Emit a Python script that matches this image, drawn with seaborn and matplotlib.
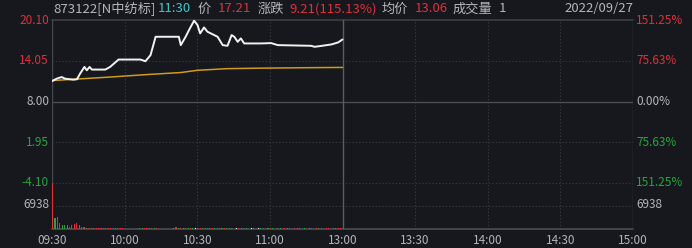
import matplotlib
matplotlib.use("Agg")
import matplotlib.pyplot as plt
import seaborn as sns
import pandas as pd

# ---------------- data ----------------
price_min = [0, 1.95, 4, 5.4, 8.8, 10.3, 11.6, 13.4, 14.4, 15.5, 16.5, 22, 24, 27.5, 36.5, 38.6,
             40.7, 42.8, 52.4, 53.2, 55.2, 56.6, 58.7, 60.1, 61.2, 62.8, 64.2, 67, 68.4, 70.5,
             72.5, 74.2, 75.3, 76.7, 78, 79.4, 86.4, 90.5, 93.3, 107, 108.5, 110.6, 115.4, 118.2, 120]
price_val = [11.03, 11.39, 11.63, 11.39, 11.24, 11.30, 12.14, 13.13, 12.63, 13.13, 12.74, 12.74,
             13.13, 14.23, 14.23, 13.98, 14.88, 17.61, 17.61, 16.37, 17.61, 18.61, 20.00, 19.36,
             18.11, 19.00, 18.36, 17.86, 17.61, 16.37, 16.27, 17.86, 17.61, 16.86, 17.37, 16.62,
             16.62, 16.67, 16.37, 16.27, 16.12, 16.22, 16.47, 16.77, 17.21]
avg_min = [0, 8.8, 22.7, 39.3, 53.2, 60.1, 72.5, 86.4, 108.5, 120]
avg_val = [11.10, 11.30, 11.60, 12.00, 12.30, 12.63, 12.88, 12.95, 13.03, 13.06]

vol_values = [13876, 3200, 3700, 1900, 1200, 1300, 1300, 700, 1100, 1400,
              1700, 1100, 700, 500, 300, 300, 400, 250, 300, 200,
              250, 300, 200, 300, 250, 300, 200, 300, 350, 200,
              100, 100, 120, 100, 100, 150, 300, 350, 250, 300,
              200, 300, 250, 200, 150, 100, 120, 100, 100, 150,
              450, 500, 350, 400, 300, 300, 250, 300, 250, 350,
              300, 250, 300, 200, 350, 250, 200, 250, 200, 300,
              250, 200, 250, 300, 200, 150, 250, 200, 300, 250,
              200, 150, 250, 200, 150, 200, 250, 200, 150, 200,
              250, 200, 150, 200, 250, 150, 200, 250, 200, 150,
              200, 250, 200, 150, 200, 150, 250, 200, 150, 200,
              250, 200, 150, 250, 200, 150, 200, 250, 200, 250, 300]
vol_dirs = [1, -1, 1, 1, -1, -1, -1, 1, 1, 1,
            1, 1, 1, 1, -1, 1, 1, 1, 1, 1,
            1, 1, 1, 1, 1, 1, 1, 1, 1, 1,
            1, 1, 1, 1, 1, 1, -1, -1, 1, 1,
            1, 1, -1, 1, 1, 1, 1, 1, 1, 1,
            -1, 1, -1, 1, -1, 1, -1, 1, -1, 0,
            -1, 1, -1, 1, 1, -1, 1, -1, 1, 1,
            -1, 1, -1, 1, 1, -1, 0, 1, -1, 1,
            -1, 1, 0, -1, 1, 0, -1, 1, 1, -1,
            1, -1, 0, 1, -1, 0, 1, -1, 1, -1,
            1, -1, 1, 0, -1, 1, -1, 1, -1, 1,
            -1, 1, -1, 1, 1, -1, 1, -1, 1, 1, 1]

y_ticks = [20.10, 14.05, 8.00, 1.95, -4.10]
y_tick_labels = ["20.10", "14.05", "8.00", "1.95", "-4.10"]
pct_labels = ["151.25%", "75.63%", "0.00%", "75.63%", "151.25%"]
vol_tick = 6938
vol_max = 13876
x_ticks = [0, 30, 60, 90, 120, 150, 180, 210, 240]
x_tick_labels = ["09:30", "10:00", "10:30", "11:00", "13:00", "13:30", "14:00", "14:30", "15:00"]

header = [("873122[N中纺标]", "gray"), ("11:30", "cyan"), ("价", "gray"), ("17.21", "red"),
          ("涨跌", "gray"), ("9.21(115.13%)", "red"), ("均价", "gray"), ("13.06", "red"),
          ("成交量", "gray"), ("1", "gray")]
header_x = [53, 158, 198, 218, 258, 289, 382, 415, 453, 499]
date_text = "2022/09/27"

# ---------------- style ----------------
BG = "#16181d"
RED = "#e0303a"
GREEN = "#25a73b"
GRAY = "#b4b6ba"
CYAN = "#3ec8c8"
GRID = "#3a3d45"
WHITE = "#f2f2f2"
AVG = "#d09a1c"
cmap = {"gray": GRAY, "red": RED, "cyan": CYAN, "green": GREEN}

sns.set_theme(style="dark")
plt.rcParams["font.family"] = ["Noto Sans CJK SC", "DejaVu Sans"]

W, H = 692, 248
fig = plt.figure(figsize=(W / 100, H / 100), dpi=100, facecolor=BG)

L, R = 52, 633
T, M, B = 20, 183, 229
ax = fig.add_axes([L / W, 1 - M / H, (R - L) / W, (M - T) / H])
axv = fig.add_axes([L / W, 1 - B / H, (R - L) / W, (B - M) / H])
for a in (ax, axv):
    a.set_facecolor(BG)
    for s in a.spines.values():
        s.set_visible(False)
    a.set_xlim(0, 240)
    a.set_xticks([])
    a.set_yticks([])
    a.grid(False)

ax.set_ylim(-4.10, 20.10)
axv.set_ylim(0, vol_max)

# grid lines
for xv in [30, 60, 90, 150, 180, 210]:
    ax.axvline(xv, color=GRID, lw=0.8, ls=(0, (1, 2)), zorder=1)
    axv.axvline(xv, color=GRID, lw=0.8, ls=(0, (1, 2)), zorder=1)
for yv in [14.05, 1.95]:
    ax.axhline(yv, color=GRID, lw=0.8, ls=(0, (1, 2)), zorder=1)
ax.axhline(8.00, color="#4a4d55", lw=1.0, zorder=1)
ax.axhline(20.10, color="#34373e", lw=1.5, zorder=1, clip_on=False)
axv.axhline(vol_max, color=GRID, lw=0.8, ls=(0, (1, 2)), zorder=1)
axv.axhline(vol_tick, color=GRID, lw=0.8, ls=(0, (1, 2)), zorder=1)
axv.axhline(0, color="#4a4d55", lw=1.2, zorder=1, clip_on=False)
for a in (ax, axv):
    a.axvline(120, color="#5a5d64", lw=1.0, zorder=1)
    a.axvline(0, color="#44474e", lw=1.0, zorder=1)
    a.axvline(240, color="#34373e", lw=1.0, zorder=1)

# lines
dfp = pd.DataFrame({"t": price_min, "p": price_val})
dfa = pd.DataFrame({"t": avg_min, "p": avg_val})
sns.lineplot(data=dfa, x="t", y="p", ax=ax, color=AVG, lw=1.1, zorder=3)
sns.lineplot(data=dfp, x="t", y="p", ax=ax, color=WHITE, lw=1.4, zorder=4)
ax.set_xlabel("")
ax.set_ylabel("")

# volume
vcol = [RED if d > 0 else (GREEN if d < 0 else WHITE) for d in vol_dirs]
axv.bar(range(len(vol_values)), vol_values, width=0.45, color=vcol, zorder=3,
        align="edge", linewidth=0, edgecolor="none")

# axis labels
lcols = [RED, RED, GRAY, GREEN, GREEN]
for yv, lab, pl, c in zip(y_ticks, y_tick_labels, pct_labels, lcols):
    yp = ax.transData.transform((0, yv))[1]
    fig.text(49 / W, yp / H, lab, color=c, fontsize=8.5, ha="right", va="center")
    fig.text(636 / W, yp / H, pl, color=c, fontsize=8.5, ha="left", va="center")
yv6 = 1 - 205 / H
fig.text(49 / W, yv6, "6938", color=GRAY, fontsize=8.5, ha="right", va="center")
fig.text(636 / W, yv6, "6938", color=GRAY, fontsize=8.5, ha="left", va="center")

for xt, lab in zip(x_ticks, x_tick_labels):
    xp = L + (R - L) * xt / 240
    fig.text(xp / W, 1 - 240 / H, lab, color=GRAY, fontsize=8.5, ha="center", va="center")

# header
for (txt, c), hx in zip(header, header_x):
    fig.text(hx / W, 1 - 9 / H, txt, color=cmap[c], fontsize=9.5, ha="left", va="center")
fig.text(633 / W, 1 - 9 / H, date_text, color=GRAY, fontsize=9.5, ha="right", va="center")

fig.savefig("out.png", dpi=100, facecolor=BG)
